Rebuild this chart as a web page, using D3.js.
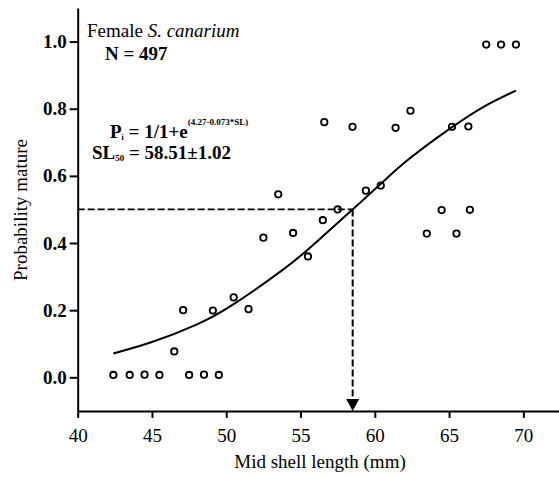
<!DOCTYPE html>
<html>
<head>
<meta charset="utf-8">
<script src="https://cdn.jsdelivr.net/npm/d3@7"></script>
<style>
  body { margin: 0; background: #fff; }
  svg text { font-family: "Liberation Serif", "Times New Roman", serif; fill: #000; }
</style>
</head>
<body>
<svg id="chart" width="559" height="478"></svg>
<script>
// observed proportions mature per size class (mm)
var shellLength = [42.4, 43.5, 44.5, 45.5, 46.5, 47.1, 47.5, 48.5, 49.1, 49.5,
                   50.5, 51.5, 52.5, 53.5, 54.5, 55.5, 56.5, 56.6, 57.5, 58.5,
                   59.4, 60.4, 61.4, 62.4, 63.5, 64.5, 65.2, 65.5, 66.3, 66.4,
                   67.5, 68.5, 69.5];
var propMature =  [0.007, 0.007, 0.008, 0.007, 0.077, 0.20, 0.007, 0.008, 0.199, 0.007,
                   0.238, 0.203, 0.416, 0.545, 0.43, 0.36, 0.468, 0.76, 0.50, 0.746,
                   0.556, 0.571, 0.743, 0.794, 0.428, 0.498, 0.746, 0.428, 0.747, 0.499,
                   0.991, 0.991, 0.991];

// fitted logistic curve
var curveSL = [42.4, 45, 48, 50.5, 53.8, 56, 58.5, 60.5, 62.3, 65.2, 67.5, 69.5];
var curveP  = [0.071, 0.105, 0.157, 0.218, 0.32, 0.40, 0.50, 0.58, 0.65, 0.745, 0.81, 0.854];

var sl50 = 58.51;
var p50 = 0.5;

var xTicks = [40, 45, 50, 55, 60, 65, 70];
var yTicks = [0.0, 0.2, 0.4, 0.6, 0.8, 1.0];

var svg = d3.select("#chart");

var x = d3.scaleLinear().domain([40, 72.4]).range([77.7, 559]);
var y = d3.scaleLinear().domain([-0.1, 1.1]).range([410.9, 8]);

// axes
var xAxis = svg.append("g")
    .attr("transform", "translate(0," + y(-0.1) + ")")
    .call(d3.axisBottom(x).tickValues(xTicks).tickSize(7).tickSizeOuter(0).tickPadding(11));
var yAxis = svg.append("g")
    .attr("transform", "translate(" + x(40) + ",0)")
    .call(d3.axisLeft(y).tickValues(yTicks).tickSize(8).tickSizeOuter(0).tickPadding(3)
        .tickFormat(d3.format(".1f")));

[xAxis, yAxis].forEach(function(a){
    a.select(".domain").attr("stroke-width", 2).attr("stroke", "#000");
    a.selectAll(".tick line").attr("stroke-width", 2).attr("stroke", "#000");
    a.selectAll(".tick text").style("font-size", "19px").attr("fill", "#000");
});
yAxis.selectAll(".tick text").style("font-weight", "bold");

// axis titles
svg.append("text")
    .attr("x", 320).attr("y", 468)
    .attr("text-anchor", "middle")
    .style("font-size", "19px")
    .text("Mid shell length (mm)");
svg.append("text")
    .attr("transform", "translate(27,210) rotate(-90)")
    .attr("text-anchor", "middle")
    .style("font-size", "19px")
    .text("Probability mature");

// dashed SL50 guides
svg.append("line")
    .attr("x1", x(40)).attr("x2", x(sl50))
    .attr("y1", y(p50)).attr("y2", y(p50))
    .attr("stroke", "#000").attr("stroke-width", 1.8)
    .attr("stroke-dasharray", "7,3");
svg.append("line")
    .attr("x1", x(sl50)).attr("x2", x(sl50))
    .attr("y1", y(p50)).attr("y2", y(-0.1) - 10)
    .attr("stroke", "#000").attr("stroke-width", 2)
    .attr("stroke-dasharray", "7,3");
var ax = x(sl50), ay = y(-0.1);
svg.append("path")
    .attr("d", "M" + ax + "," + ay + "L" + (ax - 6.5) + "," + (ay - 12) + "L" + (ax + 6.5) + "," + (ay - 12) + "Z")
    .attr("fill", "#000");

// fitted curve
var line = d3.line()
    .x(function(d){ return x(d[0]); })
    .y(function(d){ return y(d[1]); })
    .curve(d3.curveNatural);
svg.append("path")
    .datum(d3.zip(curveSL, curveP))
    .attr("d", line)
    .attr("fill", "none")
    .attr("stroke", "#000")
    .attr("stroke-width", 2);

// points
svg.selectAll(".pt").data(d3.zip(shellLength, propMature)).enter()
    .append("circle").attr("class", "pt")
    .attr("cx", function(d){ return x(d[0]); })
    .attr("cy", function(d){ return y(d[1]); })
    .attr("r", 3.2)
    .attr("fill", "none")
    .attr("stroke", "#000")
    .attr("stroke-width", 1.8);

// annotations
var t1 = svg.append("text").attr("x", 87).attr("y", 37).style("font-size", "19px");
t1.append("tspan").text("Female ");
t1.append("tspan").style("font-style", "italic").text("S. canarium");

svg.append("text").attr("x", 105).attr("y", 60).style("font-size", "19px")
    .style("font-weight", "bold").text("N = 497");

var t2 = svg.append("text").attr("x", 110).attr("y", 138).style("font-size", "19px")
    .style("font-weight", "bold");
t2.append("tspan").text("P");
t2.append("tspan").attr("dy", 2).style("font-size", "8px").text("i");
t2.append("tspan").attr("dy", -2).text(" = 1/1+e");
t2.append("tspan").attr("dy", -13).style("font-size", "9px")
    .text("(4.27-0.073*SL)");

var t3 = svg.append("text").attr("x", 92).attr("y", 159).style("font-size", "19px")
    .style("font-weight", "bold");
t3.append("tspan").text("SL");
t3.append("tspan").attr("dy", 2).style("font-size", "9px").text("50");
t3.append("tspan").attr("dy", -2).text(" = 58.51\u00b11.02");
</script>
</body>
</html>
